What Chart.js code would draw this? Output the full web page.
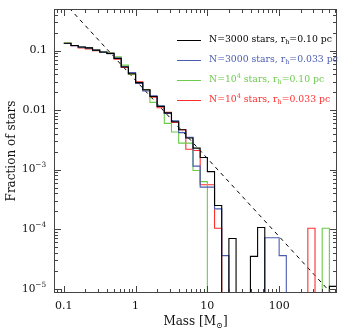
<!DOCTYPE html>
<html>
<head>
<meta charset="utf-8">
<script src="https://cdn.jsdelivr.net/npm/chart.js@4.4.1/dist/chart.umd.min.js"></script>
<style>
  html, body { margin: 0; padding: 0; background: #fff; }
  canvas { display: block; }
</style>
</head>
<body>
<canvas id="imfChart" width="348" height="336"></canvas>
<script>
// histogram bins are 0.1 dex wide in log10(M), starting at 0.1 Msun (38 bins)
const binLogStart = -1.0;
const binLogWidth = 0.1;

// fraction of stars per bin (0 = empty bin)
const fracN3000r010 = [0.133, 0.122, 0.115, 0.111, 0.102, 0.095, 0.090, 0.074, 0.053, 0.041,
  0.029, 0.022, 0.0170, 0.0115, 0.0090, 0.0064, 0.0047, 0.0034, 0.0023, 0.0016,
  0.00093, 0.00025, 0, 7e-5, 0, 0, 3.5e-5, 1.07e-4, 0, 0,
  0, 0, 0, 0, 0, 0, 0, 1.1e-5];
const fracN3000r033 = [0.132, 0.121, 0.114, 0.110, 0.101, 0.094, 0.089, 0.075, 0.054, 0.043,
  0.028, 0.021, 0.0175, 0.0118, 0.0088, 0.0066, 0.0042, 0.0035, 0.00115, 0.00051,
  0.00051, 0.00022, 3.6e-5, 0, 0, 0, 0, 0, 7.2e-5, 7.2e-5,
  3.6e-5, 0, 0, 0, 0, 0, 0, 0];
const fracN1e4r010 = [0.134, 0.122, 0.115, 0.111, 0.102, 0.095, 0.091, 0.079, 0.057, 0.040,
  0.029, 0.022, 0.0135, 0.0117, 0.0060, 0.0043, 0.0028, 0.0028, 0.00097, 0.00063,
  0, 0, 0, 0, 0, 0, 0, 0, 0, 0,
  0, 0, 0, 0, 0, 0, 1.04e-4, 0];
const fracN1e4r033 = [0.133, 0.121, 0.111, 0.107, 0.100, 0.093, 0.090, 0.072, 0.052, 0.040,
  0.030, 0.022, 0.0165, 0.0110, 0.0092, 0.0062, 0.0047, 0.0022, 0.0021, 0.00056,
  0.00056, 0.000104, 0, 0, 0, 0, 0, 0, 0, 0,
  0, 0, 0, 0, 1.04e-4, 0, 0, 0];

// Salpeter-like reference slope (dashed line), two end points
const slopeMass = [0.1, 600];
const slopeFrac = [0.65, 7.2e-6];

const xTickVals = [0.1, 1, 10, 100];
const xTickLabels = ['0.1', '1', '10', '100'];
const yTickVals = [0.1, 0.01, 1e-3, 1e-4, 1e-5];
const yTickLabels = [['0.1', ''], ['0.01', ''], ['10', '\u22123'], ['10', '\u22124'], ['10', '\u22125']];

const legendLabels = [
  [['N=3000 stars, r', 0], ['h', -1], ['=0.10 pc', 0]],
  [['N=3000 stars, r', 0], ['h', -1], ['=0.033 pc', 0]],
  [['N=10', 0], ['4', 1], [' stars, r', 0], ['h', -1], ['=0.10 pc', 0]],
  [['N=10', 0], ['4', 1], [' stars, r', 0], ['h', -1], ['=0.033 pc', 0]]
];
const colors = ['#000000', '#4a5cb0', '#6ccb4a', '#ff2e2e'];

const zeroFloor = 1e-9;
const binEdges = [];
for (let i = 0; i <= fracN3000r010.length; i++) {
    binEdges.push(Math.pow(10, binLogStart + binLogWidth * i));
}

function steps(vals) {
    const pts = [];
    vals.forEach((v, i) => {
        const yv = v > 0 ? v : zeroFloor;
        pts.push({ x: binEdges[i], y: yv }, { x: binEdges[i + 1], y: yv });
    });
    pts.push({ x: binEdges[vals.length], y: zeroFloor });
    return pts;
}

const FONT = "'DejaVu Serif', serif";

function drawRich(ctx, x, y, parts, size, align) {
    let total = 0;
    const widths = parts.map(p => {
        ctx.font = (p[1] === 0 ? size : size * 0.7) + 'px ' + FONT;
        const w = ctx.measureText(p[0]).width;
        total += w;
        return w;
    });
    let cx = align === 'right' ? x - total : (align === 'center' ? x - total / 2 : x);
    parts.forEach((p, i) => {
        ctx.font = (p[1] === 0 ? size : size * 0.7) + 'px ' + FONT;
        const dy = p[1] === 0 ? 0 : (p[1] > 0 ? -size * 0.4 : size * 0.3);
        ctx.fillText(p[0], cx, y + dy);
        cx += widths[i];
    });
}

const framePlugin = {
    id: 'frame',
    afterDraw(chart) {
        const { ctx, chartArea: a, scales: { x, y } } = chart;
        ctx.save();
        ctx.strokeStyle = '#444';
        ctx.lineWidth = 1;
        ctx.strokeRect(a.left + 0.5, a.top + 0.5, a.right - a.left - 1, a.bottom - a.top - 1);

        ctx.beginPath();
        for (let k = -2; k <= 2; k++) {
            for (let m = 1; m <= 9; m++) {
                const v = m * Math.pow(10, k);
                if (v < x.min || v > x.max) continue;
                const px = Math.round(x.getPixelForValue(v)) + 0.5;
                const len = m === 1 ? 7 : 4;
                ctx.moveTo(px, a.bottom); ctx.lineTo(px, a.bottom - len);
                ctx.moveTo(px, a.top); ctx.lineTo(px, a.top + len);
            }
        }
        for (let k = -6; k <= 0; k++) {
            for (let m = 1; m <= 9; m++) {
                const v = m * Math.pow(10, k);
                if (v < y.min || v > y.max) continue;
                const py = Math.round(y.getPixelForValue(v)) + 0.5;
                const len = m === 1 ? 7 : 4;
                ctx.moveTo(a.left, py); ctx.lineTo(a.left + len, py);
                ctx.moveTo(a.right, py); ctx.lineTo(a.right - len, py);
            }
        }
        ctx.stroke();

        ctx.fillStyle = '#111';
        ctx.textBaseline = 'middle';
        xTickVals.forEach((v, i) => {
            drawRich(ctx, x.getPixelForValue(v), a.bottom + 13, [[xTickLabels[i], 0]], 11, 'center');
        });
        yTickVals.forEach((v, i) => {
            const lab = yTickLabels[i];
            if (lab[1]) {
                drawRich(ctx, 22, y.getPixelForValue(v), [[lab[0], 0], [lab[1], 1]], 10.5, 'left');
            } else {
                drawRich(ctx, a.left - 7, y.getPixelForValue(v), [[lab[0], 0]], 11, 'right');
            }
        });

        // axis titles
        drawRich(ctx, (a.left + a.right) / 2, 322, [['Mass [M', 0], ['\u2299', -1], [']', 0]], 12, 'center');
        ctx.save();
        ctx.translate(12, (a.top + a.bottom) / 2);
        ctx.rotate(-Math.PI / 2);
        drawRich(ctx, 0, 0, [['Fraction of stars', 0]], 12, 'center');
        ctx.restore();

        // legend
        legendLabels.forEach((parts, i) => {
            const ly = 40 + i * 20;
            ctx.strokeStyle = colors[i];
            ctx.beginPath();
            ctx.moveTo(177, ly + 0.5); ctx.lineTo(201, ly + 0.5);
            ctx.stroke();
            ctx.fillStyle = colors[i];
            drawRich(ctx, 209, ly, parts, 9.3, 'left');
        });
        ctx.restore();
    }
};

const series = [fracN3000r010, fracN3000r033, fracN1e4r010, fracN1e4r033];
const datasets = series.map((vals, i) => ({
    data: steps(vals),
    borderColor: colors[i],
    borderWidth: 1.1,
    pointRadius: 0,
    tension: 0,
    fill: false
}));
datasets.push({
    data: slopeMass.map((m, i) => ({ x: m, y: slopeFrac[i] })),
    borderColor: '#000',
    borderWidth: 1,
    borderDash: [4, 4],
    pointRadius: 0,
    fill: false
});

new Chart(document.getElementById('imfChart').getContext('2d'), {
    type: 'line',
    data: { datasets: datasets },
    options: {
        responsive: false,
        animation: false,
        devicePixelRatio: 1,
        layout: { padding: { left: 54, right: 11, top: 9, bottom: 43 } },
        plugins: { legend: { display: false }, tooltip: { enabled: false } },
        scales: {
            x: { type: 'logarithmic', min: 0.073, max: 640, display: false },
            y: { type: 'logarithmic', min: 8.5e-6, max: 0.5, display: false }
        }
    },
    plugins: [framePlugin]
});
</script>
</body>
</html>
